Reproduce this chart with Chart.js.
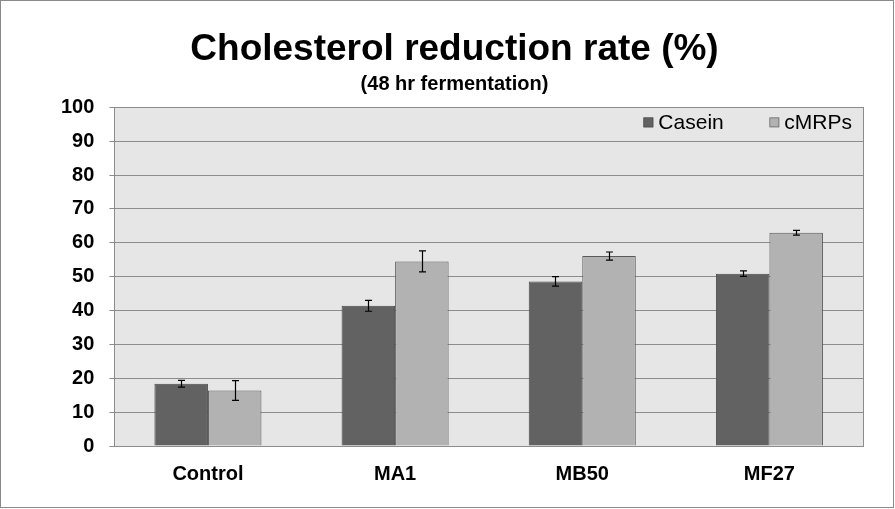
<!DOCTYPE html>
<html>
<head>
<meta charset="utf-8">
<script src="https://cdn.jsdelivr.net/npm/chart.js@4.4.1/dist/chart.umd.min.js"></script>
<style>
  html, body { margin: 0; padding: 0; background: #fff; }
  #wrap { position: relative; width: 895px; height: 509px; }
</style>
</head>
<body>
<div id="wrap"><canvas id="chart" width="895" height="509"></canvas></div>
<script>
// data
const categories = ['Control', 'MA1', 'MB50', 'MF27'];
const caseinValues = [18.4, 41.4, 48.6, 50.9];
const caseinErrors = [1.0, 1.6, 1.4, 0.8];
const cmrpsValues = [16.4, 54.5, 56.1, 63.0];
const cmrpsErrors = [2.9, 3.1, 1.2, 0.7];
const yTicks = [0, 10, 20, 30, 40, 50, 60, 70, 80, 90, 100];

const FONT = '"Liberation Sans", Arial, sans-serif';

// grey plot background + border round the plot
const plotBox = {
  id: 'plotBox',
  beforeDraw(chart) {
    const { ctx, chartArea: a } = chart;
    ctx.save();
    ctx.fillStyle = '#e6e6e6';
    ctx.fillRect(a.left, a.top, a.right - a.left, a.bottom - a.top);
    ctx.restore();
  },
  afterDraw(chart) {
    const { ctx, chartArea: a } = chart;
    ctx.save();
    ctx.strokeStyle = '#8c8c8c';
    ctx.lineWidth = 1;
    ctx.strokeRect(Math.round(a.left) + 0.5, Math.round(a.top) + 0.5,
      Math.round(a.right - a.left), Math.round(a.bottom - a.top));
    // outer frame of the figure
    ctx.strokeStyle = '#8a8a8a';
    ctx.strokeRect(0.5, 0.5, chart.width - 2, chart.height - 2);
    ctx.restore();
  }
};

// error bars drawn through the y scale
const errorBars = {
  id: 'errorBars',
  afterDatasetsDraw(chart) {
    const { ctx } = chart;
    const y = chart.scales.y;
    ctx.save();
    ctx.strokeStyle = '#000';
    ctx.lineWidth = 1.2;
    chart.data.datasets.forEach((ds, i) => {
      const meta = chart.getDatasetMeta(i);
      meta.data.forEach((bar, j) => {
        const v = ds.data[j], e = ds.errors[j];
        const x = Math.round(bar.x) + 0.5;
        const yt = y.getPixelForValue(v + e);
        const yb = y.getPixelForValue(v - e);
        ctx.beginPath();
        ctx.moveTo(x, yt); ctx.lineTo(x, yb);
        ctx.moveTo(x - 3.5, yt); ctx.lineTo(x + 3.5, yt);
        ctx.moveTo(x - 3.5, yb); ctx.lineTo(x + 3.5, yb);
        ctx.stroke();
      });
    });
    ctx.restore();
  }
};

// legend inside the plot, top right
const innerLegend = {
  id: 'innerLegend',
  afterDraw(chart) {
    const { ctx, chartArea: a } = chart;
    const items = chart.data.datasets;
    const startX = [a.left + 529, a.left + 655];
    ctx.save();
    ctx.font = '21px ' + FONT;
    ctx.textBaseline = 'middle';
    items.forEach((ds, i) => {
      const x = startX[i], yy = a.top + 15;
      ctx.fillStyle = ds.backgroundColor;
      ctx.fillRect(x, yy - 5, 10, 10);
      ctx.strokeStyle = ds.borderColor;
      ctx.lineWidth = 0.6;
      ctx.strokeRect(x + 0.5, yy - 4.5, 9, 9);
      ctx.fillStyle = '#000';
      ctx.fillText(ds.label, x + 15, yy + 1);
    });
    ctx.restore();
  }
};

new Chart(document.getElementById('chart'), {
  type: 'bar',
  data: {
    labels: categories,
    datasets: [
      { label: 'Casein', data: caseinValues, errors: caseinErrors,
        backgroundColor: '#626262', borderColor: '#4a4a4a', borderWidth: 1 },
      { label: 'cMRPs', data: cmrpsValues, errors: cmrpsErrors,
        backgroundColor: '#b2b2b2', borderColor: '#5a5a5a', borderWidth: 1 }
    ]
  },
  options: {
    responsive: false,
    animation: false,
    devicePixelRatio: 1,
    layout: { padding: { left: 46, right: 32, top: 0, bottom: 7 } },
    datasets: { bar: { barPercentage: 1.0, categoryPercentage: 0.572 } },
    plugins: {
      legend: { display: false },
      tooltip: { enabled: false },
      title: {
        display: true,
        text: 'Cholesterol reduction rate (%)',
        color: '#000',
        font: { family: FONT, size: 37, weight: 'bold' },
        padding: { top: 28, bottom: 0 }
      },
      subtitle: {
        display: true,
        text: '(48 hr fermentation)',
        color: '#000',
        font: { family: FONT, size: 20, weight: 'bold' },
        padding: { top: 0, bottom: 11 }
      }
    },
    scales: {
      x: {
        grid: { display: false, drawTicks: false },
        border: { display: true, color: '#8c8c8c' },
        ticks: { color: '#000', font: { family: FONT, size: 20, weight: 'bold' }, padding: 16 }
      },
      y: {
        min: 0, max: 100,
        afterBuildTicks(scale) { scale.ticks = yTicks.map(v => ({ value: v })); },
        grid: { color: '#8c8c8c', lineWidth: 1, tickLength: 5, drawTicks: true },
        border: { display: true, color: '#8c8c8c' },
        ticks: { color: '#000', font: { family: FONT, size: 20, weight: 'bold' }, padding: 15 }
      }
    }
  },
  plugins: [plotBox, errorBars, innerLegend]
});
</script>
</body>
</html>
